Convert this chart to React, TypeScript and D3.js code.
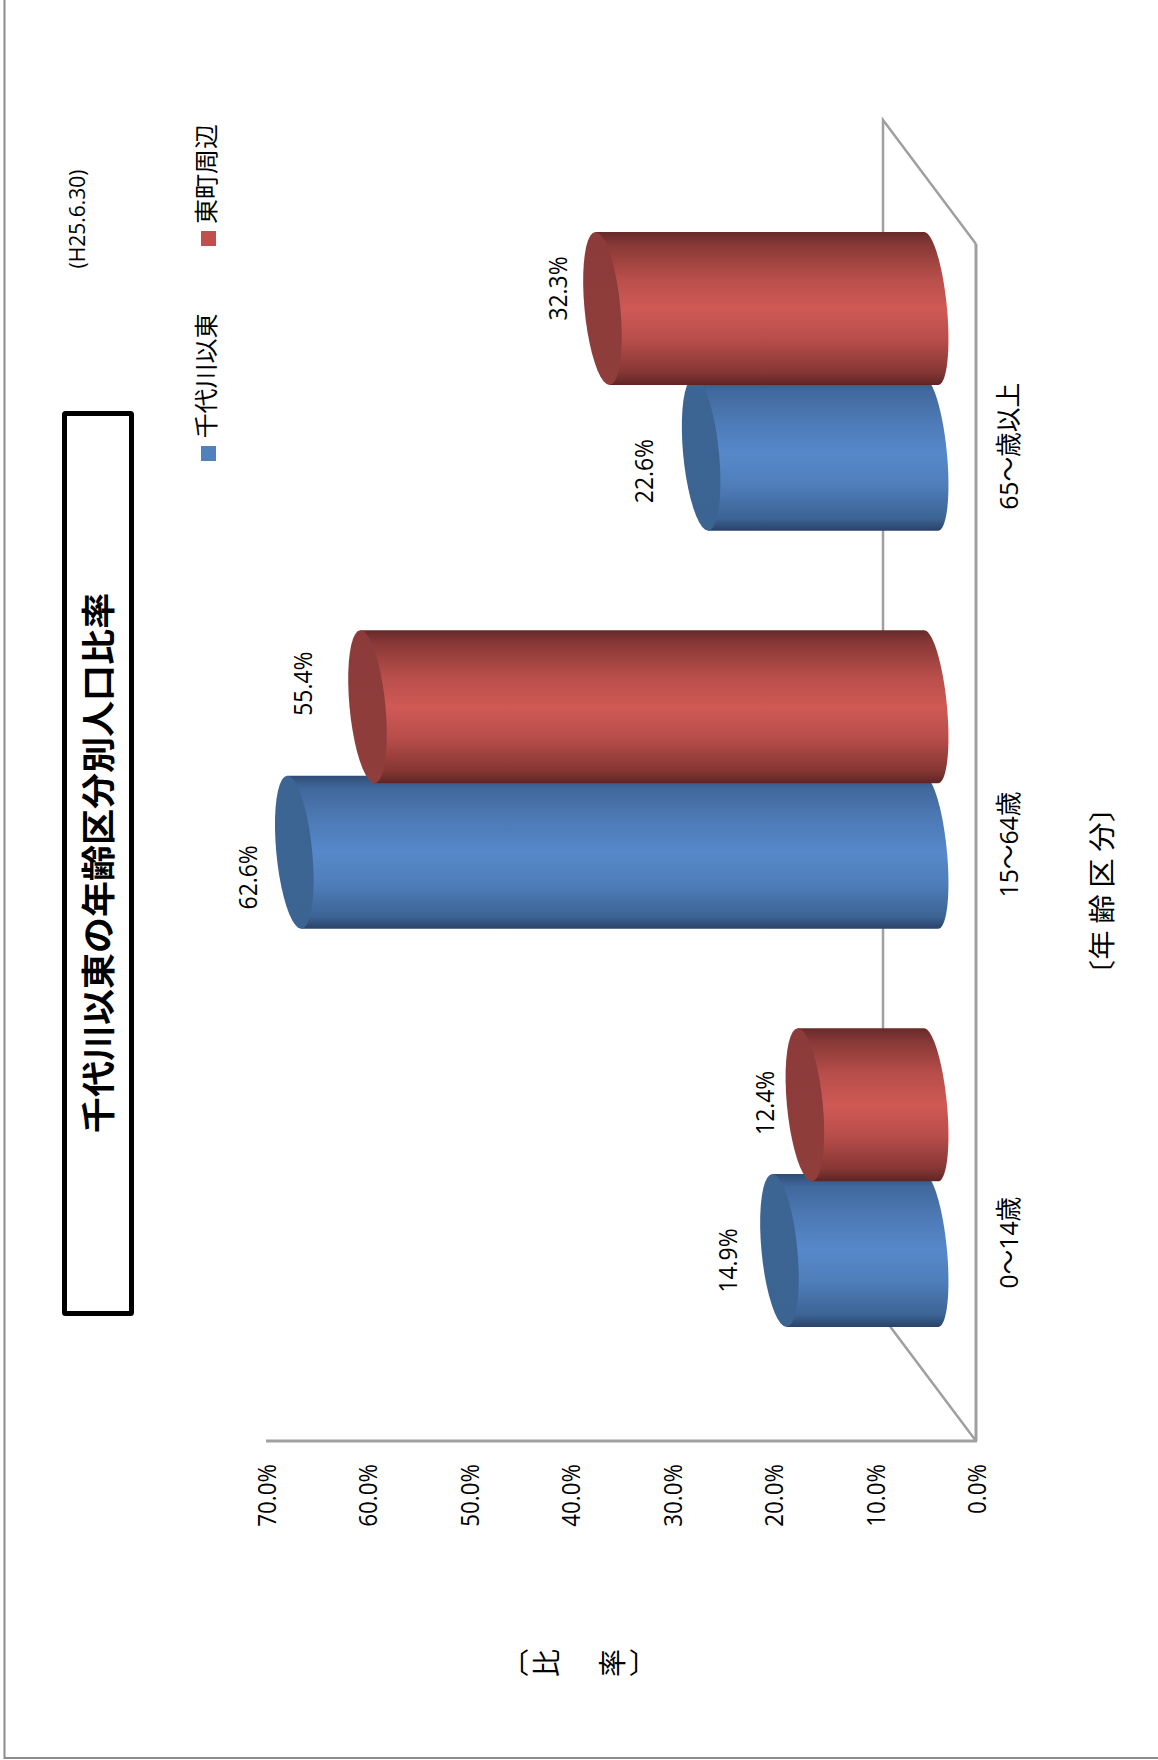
import React from "react";
import * as d3 from "d3";

const categories = ["0～14歳", "15～64歳", "65～歳以上"];
const seriesNames = ["千代川以東", "東町周辺"];
const blueValues = [14.9, 62.6, 22.6];
const redValues = [12.4, 55.4, 32.3];
const ticks = [0, 10, 20, 30, 40, 50, 60, 70];

// layout nudges for the data labels (perspective drift in the source picture)
const blueNudgeX = [-42.5, -37, -48];
const blueNudgeY = [10, 25, 17];
const redNudgeX = [-31, -56, -35.5];
const redNudgeY = [-2, -23, -20];

const W = 1158;
const H = 1760;
const FONT = '"Open Sans","Noto Sans CJK JP",sans-serif';
const CJK = '"Noto Sans CJK JP",sans-serif';
const GRAY = "#a0a0a0";

const axisX = d3.scaleLinear().domain([0, 70]).range([976, 266]);
const barX = d3.scaleLinear().domain([0, 70]).range([931, 219]);
const bandY = d3
  .scaleBand<string>()
  .domain([...categories].reverse())
  .range([232, 1327])
  .paddingInner(0.25)
  .paddingOuter(0);

const BAR_H = 153;
const SKEW = 7;
const CAP_RX = 18;
const END_RX = 16;

function ellipsePts(cx: number, cy: number, rx: number, ry: number, from: number, to: number) {
  return d3.range(0, 41).map((i) => {
    const t = from + ((to - from) * i) / 40;
    return [cx + rx * Math.cos(t) + SKEW * Math.sin(t), cy + ry * Math.sin(t)] as [number, number];
  });
}
const line = d3.line();

function Cylinder({ value, top, grad, cap }: { value: number; top: number; grad: string; cap: string }) {
  const ry = BAR_H / 2;
  const cy = top + ry;
  const x0 = barX(0);
  const x1 = barX(value);
  const end = ellipsePts(x0, cy, END_RX, ry, -Math.PI / 2, Math.PI / 2);
  const body = line([[x1 - SKEW, top], ...end, [x1 + SKEW, top + BAR_H]]) + "Z";
  const capPath = line(ellipsePts(x1, cy, CAP_RX, ry, 0, Math.PI * 2)) + "Z";
  return (
    <g>
      <path d={body} fill={`url(#${grad})`} />
      <path d={capPath} fill={`url(#${cap})`} />
    </g>
  );
}

function VText({ x, y, size, sx = 1, anchor = "middle", weight = 400, font = FONT, children }: any) {
  return (
    <text
      transform={`translate(${x},${y}) rotate(-90) scale(${sx},1)`}
      fontSize={size}
      fontFamily={font}
      fontWeight={weight}
      textAnchor={anchor}
      fill="#000"
    >
      {children}
    </text>
  );
}

function Grad({ id, stops }: { id: string; stops: [number, string][] }) {
  return (
    <linearGradient id={id} x1="0" y1="0" x2="0" y2="1">
      {stops.map(([o, c]) => (
        <stop key={o} offset={o} stopColor={c} />
      ))}
    </linearGradient>
  );
}

export default function App() {
  return (
    <svg width={W} height={H} viewBox={`0 0 ${W} ${H}`} style={{ position: "absolute", left: 0, top: 0, background: "#fff" }}>
      <defs>
        <Grad id="redBody" stops={[[0, "#662a2a"], [0.08, "#863836"], [0.3, "#b84e4a"], [0.5, "#cf5955"], [0.7, "#b84e4a"], [0.92, "#853634"], [1, "#5e2524"]]} />
        <Grad id="blueBody" stops={[[0, "#2f4c75"], [0.08, "#40689c"], [0.3, "#4e7bb7"], [0.5, "#5688ca"], [0.7, "#4f7eba"], [0.92, "#3c6495"], [1, "#2a4268"]]} />
        <Grad id="redCap" stops={[[0, "#8c3b3a"], [1, "#8f3e3c"]]} />
        <Grad id="blueCap" stops={[[0, "#3c6594"], [1, "#3b6492"]]} />
      </defs>

      {/* outer frame */}
      <path d={`M4.5 0V1758H${W}`} fill="none" stroke="#8c8c8c" strokeWidth={2} />

      {/* 3D floor */}
      <path
        d={`M${axisX(0)} ${bandY.range()[0] + 12}L${axisX(0) - 93} 120V1317L${axisX(0)} 1441`}
        fill="none"
        stroke={GRAY}
        strokeWidth={2.5}
      />
      <line x1={axisX(0)} x2={axisX(0)} y1={244} y2={1441} stroke={GRAY} strokeWidth={3} />
      <line x1={axisX(70)} x2={axisX(0) + 1} y1={1441} y2={1441} stroke={GRAY} strokeWidth={3} />

      {/* cylinders */}
      {categories.map((c, i) => {
        const top = bandY(c)!;
        const bottom = top + bandY.bandwidth();
        return (
          <g key={c}>
            <Cylinder value={blueValues[i]} top={bottom - BAR_H} grad="blueBody" cap="blueCap" />
            <Cylinder value={redValues[i]} top={top} grad="redBody" cap="redCap" />
          </g>
        );
      })}

      {/* data labels */}
      {categories.map((c, i) => {
        const top = bandY(c)!;
        const bottom = top + bandY.bandwidth();
        return (
          <g key={c}>
            <VText x={barX(blueValues[i]) + blueNudgeX[i]} y={bottom - BAR_H / 2 + blueNudgeY[i]} size={26} sx={0.88}>
              {blueValues[i].toFixed(1)}%
            </VText>
            <VText x={barX(redValues[i]) + redNudgeX[i]} y={top + BAR_H / 2 + redNudgeY[i]} size={26} sx={0.88}>
              {redValues[i].toFixed(1)}%
            </VText>
          </g>
        );
      })}

      {/* value axis labels */}
      {ticks.map((t) => (
        <VText key={t} x={axisX(t) + 10} y={1464} size={26} sx={0.86} anchor="end">
          {t.toFixed(1)}%
        </VText>
      ))}

      {/* category labels */}
      {categories.map((c) => (
        <VText key={c} x={1018} y={bandY(c)! + bandY.bandwidth() / 2 + 65} size={26} sx={0.95}>
          {c}
        </VText>
      ))}

      {/* axis titles */}
      <VText x={1112} y={891} size={27} sx={1.09} font={CJK}>
        〔年 齢 区 分〕
      </VText>
      <g fontFamily={CJK} fontSize={28} fill="#000">
        <text x={515} y={1674} textAnchor="middle">〔</text>
        <text transform="translate(557,1663) rotate(-90)" textAnchor="middle">比</text>
        <text transform="translate(623,1663) rotate(-90)" textAnchor="middle">率</text>
        <text x={643} y={1674} textAnchor="middle">〕</text>
      </g>

      {/* title box */}
      <rect x={64.5} y={413.5} width={67} height={900} fill="#fff" stroke="#000" strokeWidth={5} rx={1} />
      <VText x={111} y={863} size={34} sx={1.06} weight={700} font={CJK}>
        千代川以東の年齢区分別人口比率
      </VText>

      {/* date */}
      <VText x={85} y={219} size={21}>
        (H25.6.30)
      </VText>

      {/* legend */}
      <rect x={201} y={446} width={15} height={15} fill="#4f81bd" />
      <VText x={215} y={376} size={24} sx={1.04} font={CJK}>
        {seriesNames[0]}
      </VText>
      <rect x={201} y={231} width={15} height={15} fill="#c0504d" />
      <VText x={215} y={174} size={24} sx={1.04} font={CJK}>
        {seriesNames[1]}
      </VText>
    </svg>
  );
}
